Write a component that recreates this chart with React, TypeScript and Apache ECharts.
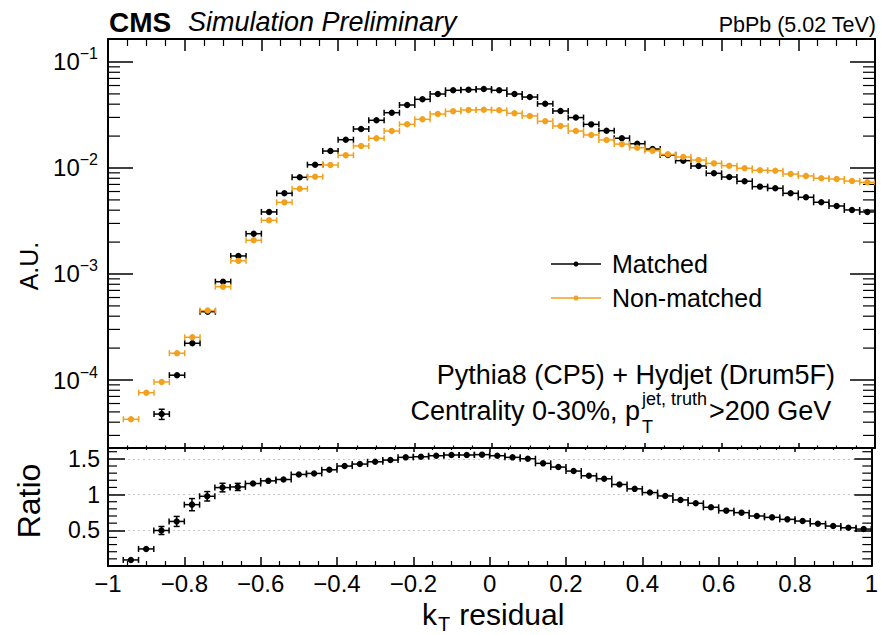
import React, { useEffect, useRef } from "react";
import * as echarts from "echarts";

// ---------------- data ----------------
const binCenters = [
  -0.94, -0.9, -0.86, -0.82, -0.78, -0.74, -0.7, -0.66, -0.62, -0.58,
  -0.54, -0.5, -0.46, -0.42, -0.38, -0.34, -0.3, -0.26, -0.22, -0.18,
  -0.14, -0.1, -0.06, -0.02, 0.02, 0.06, 0.1, 0.14, 0.18, 0.22,
  0.26, 0.3, 0.34, 0.38, 0.42, 0.46, 0.5, 0.54, 0.58, 0.62,
  0.66, 0.7, 0.74, 0.78, 0.82, 0.86, 0.9, 0.94, 0.98,
];

const matched = [
  null, null, 4.77e-5, 1.11e-4, 2.22e-4, 4.41e-4, 8.46e-4, 1.48e-3, 2.4e-3, 3.85e-3,
  5.77e-3, 8.17e-3, 0.01074, 0.01445, 0.01849, 0.02333, 0.02818, 0.03325, 0.03929, 0.04446,
  0.0499, 0.05408, 0.05482, 0.05563, 0.05408, 0.0499, 0.0467, 0.0403, 0.0345, 0.0299,
  0.0258, 0.0225, 0.0191, 0.01695, 0.0151, 0.01327, 0.01173, 0.01045, 0.00891, 0.00822,
  0.0075, 0.00667, 0.00643, 0.00577, 0.00529, 0.00475, 0.00438, 0.00402, 0.00385,
];

const matchedRelErr = [
  0, 0, 0.11, 0.065, 0.05, 0.04, 0.03, 0.02, 0.015, 0.012,
  0.01, 0.01, 0.01, 0.01, 0.01, 0.01, 0.01, 0.01, 0.01, 0.01,
  0.01, 0.01, 0.01, 0.01, 0.01, 0.01, 0.01, 0.01, 0.01, 0.01,
  0.01, 0.01, 0.01, 0.01, 0.01, 0.01, 0.01, 0.01, 0.01, 0.01,
  0.01, 0.01, 0.01, 0.01, 0.01, 0.01, 0.01, 0.01, 0.01,
];

const nonMatched = [
  4.26e-5, 7.59e-5, 9.57e-5, 1.79e-4, 2.53e-4, 4.52e-4, 7.59e-4, 1.33e-3, 2.08e-3, 3.21e-3,
  4.74e-3, 6.37e-3, 8.28e-3, 0.01067, 0.01318, 0.01614, 0.01906, 0.02233, 0.02583, 0.02877,
  0.03228, 0.03425, 0.03524, 0.03548, 0.035, 0.03281, 0.031, 0.0276, 0.0249, 0.0223,
  0.0205, 0.0184, 0.0168, 0.01555, 0.01456, 0.01346, 0.0127, 0.01189, 0.01106, 0.01051,
  0.00994, 0.00951, 0.00944, 0.00877, 0.00841, 0.008, 0.00787, 0.00753, 0.00733,
];

const nonMatchedRelErr = [
  0.04, 0.03, 0.03, 0.02, 0.02, 0.015, 0.01, 0.01, 0.01, 0.01,
  0.01, 0.01, 0.01, 0.01, 0.01, 0.01, 0.01, 0.01, 0.01, 0.01,
  0.01, 0.01, 0.01, 0.01, 0.01, 0.01, 0.01, 0.01, 0.01, 0.01,
  0.01, 0.01, 0.01, 0.01, 0.01, 0.01, 0.01, 0.01, 0.01, 0.01,
  0.01, 0.01, 0.01, 0.01, 0.01, 0.01, 0.01, 0.01, 0.01,
];

const ratio = [
  0.085, 0.239, 0.497, 0.624, 0.859, 0.976, 1.098, 1.107, 1.155, 1.192,
  1.211, 1.282, 1.296, 1.347, 1.399, 1.427, 1.459, 1.483, 1.521, 1.53,
  1.544, 1.554, 1.554, 1.559, 1.544, 1.521, 1.502, 1.437, 1.385, 1.329,
  1.263, 1.221, 1.141, 1.08, 1.028, 0.981, 0.925, 0.878, 0.822, 0.775,
  0.747, 0.7, 0.681, 0.653, 0.629, 0.592, 0.559, 0.535, 0.517,
];

const ratioErr = [
  0.012, 0.015, 0.056, 0.07, 0.085, 0.066, 0.06, 0.05, 0.03, 0.025,
  0.02, 0.02, 0.015, 0.015, 0.012, 0.012, 0.012, 0.01, 0.01, 0.01,
  0.01, 0.01, 0.01, 0.01, 0.01, 0.01, 0.01, 0.01, 0.01, 0.01,
  0.01, 0.01, 0.01, 0.01, 0.01, 0.01, 0.01, 0.01, 0.01, 0.01,
  0.01, 0.01, 0.01, 0.01, 0.01, 0.01, 0.01, 0.01, 0.01,
];

const xTickValues = [-1, -0.8, -0.6, -0.4, -0.2, 0, 0.2, 0.4, 0.6, 0.8, 1];
const ratioTickLabels = [0.5, 1, 1.5];

// ---------------- style constants ----------------
const FONT = "'Liberation Sans', Arial, Helvetica, sans-serif";
const BLACK = "#000000";
const ORANGE = "#f2a11f";
const HALF_BIN = 0.02;
const CAP = 3;
const Y_MIN = 2.283e-5;
const Y_MAX = 0.1648;
const R_MIN = 0;
const R_MAX = 1.652;

function fmtX(v: number): string {
  const r = Math.round(v * 10) / 10;
  if (r === 0) return "0";
  const s = Math.abs(r).toString();
  return (r < 0 ? "\u2212" : "") + s;
}

function errorSeries(
  name: string,
  xAxisIndex: number,
  yAxisIndex: number,
  data: number[][],
  color: string
) {
  return {
    type: "custom",
    name,
    xAxisIndex,
    yAxisIndex,
    clip: true,
    encode: { x: 0, y: 1 },
    data,
    z: 5,
    renderItem: (_params: any, api: any) => {
      const x = api.value(0);
      const y = api.value(1);
      const lo = api.value(2);
      const hi = api.value(3);
      const c = api.coord([x, y]);
      const l = api.coord([x - HALF_BIN, y]);
      const r = api.coord([x + HALF_BIN, y]);
      const pl = api.coord([x, lo]);
      const ph = api.coord([x, hi]);
      const style = { stroke: color, lineWidth: 1.5, fill: "none" };
      const children: any[] = [
        { type: "line", shape: { x1: l[0], y1: c[1], x2: r[0], y2: c[1] }, style },
        { type: "line", shape: { x1: l[0], y1: c[1] - CAP, x2: l[0], y2: c[1] + CAP }, style },
        { type: "line", shape: { x1: r[0], y1: c[1] - CAP, x2: r[0], y2: c[1] + CAP }, style },
      ];
      if (Math.abs(pl[1] - ph[1]) > 7) {
        children.push({ type: "line", shape: { x1: c[0], y1: pl[1], x2: c[0], y2: ph[1] }, style });
        children.push({ type: "line", shape: { x1: c[0] - CAP, y1: pl[1], x2: c[0] + CAP, y2: pl[1] }, style });
        children.push({ type: "line", shape: { x1: c[0] - CAP, y1: ph[1], x2: c[0] + CAP, y2: ph[1] }, style });
      }
      children.push({ type: "circle", shape: { cx: c[0], cy: c[1], r: 3.2 }, style: { fill: color } });
      return { type: "group", children };
    },
  };
}

function minorTickSeries(xAxisIndex: number, yAxisIndex: number, values: number[], len: number) {
  return {
    type: "custom",
    xAxisIndex,
    yAxisIndex,
    silent: true,
    clip: false,
    encode: { x: 0, y: 1 },
    data: values.map((v) => [0, v]),
    z: 3,
    renderItem: (_params: any, api: any) => {
      const v = api.value(1);
      const a = api.coord([-1, v]);
      const b = api.coord([1, v]);
      const style = { stroke: BLACK, lineWidth: 1.2 };
      return {
        type: "group",
        children: [
          { type: "line", shape: { x1: a[0], y1: a[1], x2: a[0] + len, y2: a[1] }, style },
          { type: "line", shape: { x1: b[0] - len, y1: b[1], x2: b[0], y2: b[1] }, style },
        ],
      };
    },
  };
}

export default function App() {
  const ref = useRef<HTMLDivElement>(null);

  useEffect(() => {
    document.body.style.margin = "0";
    if (!ref.current) return;
    const chart = echarts.init(ref.current, undefined, { renderer: "svg" });

    const matchedData: number[][] = [];
    const nonMatchedData: number[][] = [];
    const ratioData: number[][] = [];
    binCenters.forEach((x, i) => {
      const m = matched[i];
      if (m !== null && m !== undefined) {
        matchedData.push([x, m, m * (1 - matchedRelErr[i]), m * (1 + matchedRelErr[i])]);
      }
      const n = nonMatched[i];
      if (n !== null && n !== undefined) {
        nonMatchedData.push([x, n, n * (1 - nonMatchedRelErr[i]), n * (1 + nonMatchedRelErr[i])]);
      }
      const r = ratio[i];
      if (r !== null && r !== undefined) {
        ratioData.push([x, r, r - ratioErr[i], r + ratioErr[i]]);
      }
    });

    // log minor ticks (2..9 x 10^k) within the top panel range
    const logMinor: number[] = [];
    for (let k = -5; k <= -1; k++) {
      for (let m = 2; m <= 9; m++) {
        const v = m * Math.pow(10, k);
        if (v > Y_MIN && v < Y_MAX) logMinor.push(v);
      }
    }
    const ratioMinor: number[] = [];
    for (let i = 1; i <= 16; i++) {
      if (i % 5 !== 0) ratioMinor.push(i / 10);
    }

    const axisLine = { show: true, onZero: false, lineStyle: { color: BLACK, width: 2 } };
    const labelStyle = { color: BLACK, fontFamily: FONT };

    const xBase = (gridIndex: number, position: string, tickLen: number, minorLen: number, showLabel: boolean) => ({
      type: "value",
      gridIndex,
      position,
      min: -1,
      max: 1,
      interval: 0.2,
      axisLine,
      axisTick: { show: true, inside: true, length: tickLen, lineStyle: { color: BLACK, width: 1.5 } },
      minorTick: { show: true, splitNumber: 4, length: minorLen, lineStyle: { color: BLACK, width: 1.2 } },
      splitLine: { show: false },
      axisLabel: showLabel
        ? {
            show: true,
            ...labelStyle,
            fontSize: 24,
            margin: 5,
            lineHeight: 24,
            showMinLabel: true,
            showMaxLabel: true,
            formatter: (v: number) => (xTickValues.some((t) => Math.abs(t - v) < 1e-6) ? fmtX(v) : ""),
          }
        : { show: false },
    });

    const option: any = {
      animation: false,
      backgroundColor: "#ffffff",
      grid: [
        { left: 108, right: 6, top: 39, height: 409 },
        { left: 108, right: 6, top: 448, height: 118 },
      ],
      xAxis: [
        xBase(0, "bottom", 5, 2.5, false),
        xBase(0, "top", 12, 7, false),
        xBase(1, "bottom", 9, 5, true),
        xBase(1, "top", 4, 2, false),
      ],
      yAxis: [
        {
          type: "log",
          logBase: 10,
          gridIndex: 0,
          position: "left",
          min: Y_MIN,
          max: Y_MAX,
          axisLine,
          axisTick: { show: true, inside: true, length: 25, lineStyle: { color: BLACK, width: 1.5 } },
          splitLine: { show: false },
          axisLabel: {
            show: true,
            margin: 10,
            showMinLabel: true,
            showMaxLabel: true,
            formatter: (v: number) => {
              const l = Math.log10(v);
              const r = Math.round(l);
              if (Math.abs(l - r) > 1e-6) return "";
              return `{b|10}{s|${r < 0 ? "\u2212" : ""}${Math.abs(r)}}`;
            },
            rich: {
              b: { fontSize: 24, lineHeight: 32, fontFamily: FONT, color: BLACK },
              s: { fontSize: 16, lineHeight: 16, verticalAlign: "top", fontFamily: FONT, color: BLACK },
            },
          },
        },
        {
          type: "log",
          logBase: 10,
          gridIndex: 0,
          position: "right",
          min: Y_MIN,
          max: Y_MAX,
          axisLine,
          axisTick: { show: true, inside: true, length: 25, lineStyle: { color: BLACK, width: 1.5 } },
          splitLine: { show: false },
          axisLabel: { show: false },
        },
        {
          type: "value",
          gridIndex: 1,
          position: "left",
          min: R_MIN,
          max: R_MAX,
          interval: 0.5,
          axisLine,
          axisTick: { show: true, inside: true, length: 17, lineStyle: { color: BLACK, width: 1.5 } },
          splitLine: { show: true, lineStyle: { color: "#c8c8c8", type: [2, 3], width: 1 } },
          axisLabel: {
            show: true,
            ...labelStyle,
            fontSize: 23,
            margin: 8,
            formatter: (v: number) =>
              ratioTickLabels.some((t) => Math.abs(t - v) < 1e-6) ? String(Math.round(v * 10) / 10) : "",
          },
        },
        {
          type: "value",
          gridIndex: 1,
          position: "right",
          min: R_MIN,
          max: R_MAX,
          interval: 0.5,
          axisLine,
          axisTick: { show: true, inside: true, length: 17, lineStyle: { color: BLACK, width: 1.5 } },
          splitLine: { show: false },
          axisLabel: { show: false },
        },
      ],
      series: [
        minorTickSeries(0, 0, logMinor, 12),
        minorTickSeries(2, 2, ratioMinor, 9),
        errorSeries("Matched", 0, 0, matchedData, BLACK),
        errorSeries("Non-matched", 0, 0, nonMatchedData, ORANGE),
        errorSeries("Ratio", 2, 2, ratioData, BLACK),
      ],
      graphic: [
        { type: "text", x: 109, y: 22, style: { text: "CMS", fontSize: 28, fontWeight: "bold", fontFamily: FONT, fill: BLACK, align: "left", verticalAlign: "middle" } },
        { type: "text", x: 188, y: 22, style: { text: "Simulation Preliminary", fontSize: 27, fontStyle: "italic", fontFamily: FONT, fill: BLACK, align: "left", verticalAlign: "middle" } },
        { type: "text", x: 876, y: 25, style: { text: "PbPb (5.02 TeV)", fontSize: 21.5, fontFamily: FONT, fill: BLACK, align: "right", verticalAlign: "middle" } },
        { type: "text", x: 29, y: 266, rotation: Math.PI / 2, style: { text: "A.U.", fontSize: 25, fontFamily: FONT, fill: BLACK, align: "center", verticalAlign: "middle" } },
        { type: "text", x: 29, y: 501, rotation: Math.PI / 2, style: { text: "Ratio", fontSize: 32, fontFamily: FONT, fill: BLACK, align: "center", verticalAlign: "middle" } },
        // legend
        { type: "line", shape: { x1: 551, y1: 264, x2: 601, y2: 264 }, style: { stroke: BLACK, lineWidth: 1.5 } },
        { type: "circle", shape: { cx: 576, cy: 264, r: 2.5 }, style: { fill: BLACK } },
        { type: "text", x: 612, y: 264, style: { text: "Matched", fontSize: 25, fontFamily: FONT, fill: BLACK, align: "left", verticalAlign: "middle" } },
        { type: "line", shape: { x1: 551, y1: 298, x2: 601, y2: 298 }, style: { stroke: ORANGE, lineWidth: 1.5 } },
        { type: "circle", shape: { cx: 576, cy: 298, r: 2.5 }, style: { fill: ORANGE } },
        { type: "text", x: 612, y: 298, style: { text: "Non-matched", fontSize: 25, fontFamily: FONT, fill: BLACK, align: "left", verticalAlign: "middle" } },
        // annotations
        { type: "text", x: 835, y: 375, style: { text: "Pythia8 (CP5) + Hydjet (Drum5F)", fontSize: 27, fontFamily: FONT, fill: BLACK, align: "right", verticalAlign: "middle" } },
        { type: "text", x: 640, y: 411, style: { text: "Centrality 0-30%, p", fontSize: 27, fontFamily: FONT, fill: BLACK, align: "right", verticalAlign: "middle" } },
        { type: "text", x: 642, y: 399, style: { text: "jet, truth", fontSize: 18, fontFamily: FONT, fill: BLACK, align: "left", verticalAlign: "middle" } },
        { type: "text", x: 642, y: 427, style: { text: "T", fontSize: 18, fontFamily: FONT, fill: BLACK, align: "left", verticalAlign: "middle" } },
        { type: "text", x: 709, y: 411, style: { text: ">200 GeV", fontSize: 27, fontFamily: FONT, fill: BLACK, align: "left", verticalAlign: "middle" } },
        // x axis title
        { type: "text", x: 422, y: 614, style: { text: "k", fontSize: 30, fontFamily: FONT, fill: BLACK, align: "left", verticalAlign: "middle" } },
        { type: "text", x: 438, y: 624, style: { text: "T", fontSize: 20, fontFamily: FONT, fill: BLACK, align: "left", verticalAlign: "middle" } },
        { type: "text", x: 451, y: 614, style: { text: " residual", fontSize: 30, fontFamily: FONT, fill: BLACK, align: "left", verticalAlign: "middle" } },
      ],
    };

    chart.setOption(option);
    return () => chart.dispose();
  }, []);

  return (
    <div
      ref={ref}
      style={{ position: "absolute", left: 0, top: 0, width: 881, height: 635, background: "#fff" }}
    />
  );
}
